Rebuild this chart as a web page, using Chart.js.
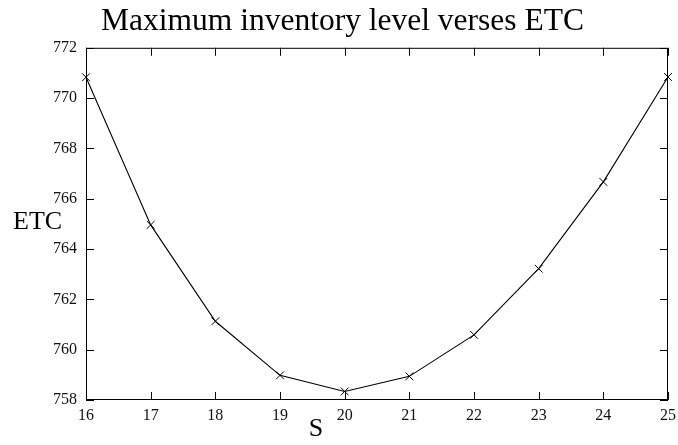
<!DOCTYPE html>
<html>
<head>
<meta charset="utf-8">
<script src="https://cdn.jsdelivr.net/npm/chart.js@4.4.1/dist/chart.umd.min.js"></script>
<style>
  html, body { margin: 0; padding: 0; background: #fff; }
  #wrap { width: 678px; height: 445px; }
</style>
</head>
<body>
<div id="wrap"><canvas id="etcChart"></canvas></div>
<script>
// values
const sValues = [16, 17, 18, 19, 20, 21, 22, 23, 24, 25];
const etcValues = [770.83, 764.96, 761.13, 758.98, 758.34, 758.94, 760.59, 763.22, 766.67, 770.84];
const yTicks = [758, 760, 762, 764, 766, 768, 770, 772];

const serif = "'Liberation Serif', 'Times New Roman', serif";

// gnuplot-like frame: box plus inward ticks on every side, and the two axis labels
const frameAndLabels = {
    id: 'frameAndLabels',
    afterDraw(chart) {
        const ctx = chart.ctx;
        const a = chart.chartArea;
        const xs = chart.scales.x;
        const ys = chart.scales.y;
        const len = 8;
        ctx.save();
        ctx.strokeStyle = '#000';
        ctx.lineWidth = 1;
        ctx.strokeRect(a.left + 0.5, a.top + 0.5, a.right - a.left - 1, a.bottom - a.top - 1);
        ctx.beginPath();
        xs.ticks.forEach(t => {
            const px = Math.round(xs.getPixelForValue(t.value)) + 0.5;
            ctx.moveTo(px, a.bottom);
            ctx.lineTo(px, a.bottom - len);
            ctx.moveTo(px, a.top);
            ctx.lineTo(px, a.top + len);
        });
        ys.ticks.forEach(t => {
            const py = Math.round(ys.getPixelForValue(t.value)) + 0.5;
            ctx.moveTo(a.left, py);
            ctx.lineTo(a.left + len, py);
            ctx.moveTo(a.right, py);
            ctx.lineTo(a.right - len, py);
        });
        ctx.stroke();

        ctx.fillStyle = '#000';
        ctx.font = '26px ' + serif;
        ctx.textBaseline = 'middle';
        ctx.textAlign = 'left';
        ctx.fillText('ETC', a.left - 73, (a.top + a.bottom) / 2 - 2);
        ctx.textAlign = 'center';
        ctx.fillText('S', 316, a.bottom + 29);
        ctx.restore();
    }
};

const ctx = document.getElementById('etcChart').getContext('2d');
const etcChart = new Chart(ctx, {
    type: 'line',
    plugins: [frameAndLabels],
    data: {
        datasets: [
            {
                label: 'ETC',
                data: sValues.map((s, i) => ({ x: s, y: etcValues[i] })),
                borderColor: '#000',
                borderWidth: 1.1,
                backgroundColor: '#000',
                pointStyle: 'crossRot',
                pointRadius: 5.5,
                pointBorderWidth: 1,
                pointBorderColor: '#000',
                tension: 0,
                fill: false,
                clip: false
            }
        ]
    },
    options: {
        responsive: true,
        maintainAspectRatio: false,
        animation: false,
        layout: {
            padding: { left: 17, right: 10, top: 0, bottom: 0 }
        },
        plugins: {
            legend: { display: false },
            tooltip: { enabled: false },
            title: {
                display: true,
                text: 'Maximum inventory level verses ETC',
                color: '#000',
                font: { family: serif, size: 31.5, weight: 'normal', lineHeight: 1.2 },
                padding: { top: 3, bottom: 7 }
            }
        },
        scales: {
            x: {
                type: 'linear',
                min: 16,
                max: 25,
                afterFit(scale) {
                    scale.height = 45;
                    scale.paddingLeft = 0;
                    scale.paddingRight = 0;
                },
                grid: { display: false, drawTicks: false },
                border: { display: false },
                ticks: {
                    stepSize: 1,
                    padding: 6,
                    color: '#111',
                    font: { family: serif, size: 16 }
                }
            },
            y: {
                min: 758,
                max: 772,
                afterFit(scale) { scale.width = 69; },
                afterBuildTicks(scale) {
                    scale.ticks = yTicks.map(v => ({ value: v }));
                },
                grid: { display: false, drawTicks: false },
                border: { display: false },
                ticks: {
                    padding: 9,
                    color: '#111',
                    font: { family: serif, size: 16 }
                }
            }
        }
    }
});
</script>
</body>
</html>
